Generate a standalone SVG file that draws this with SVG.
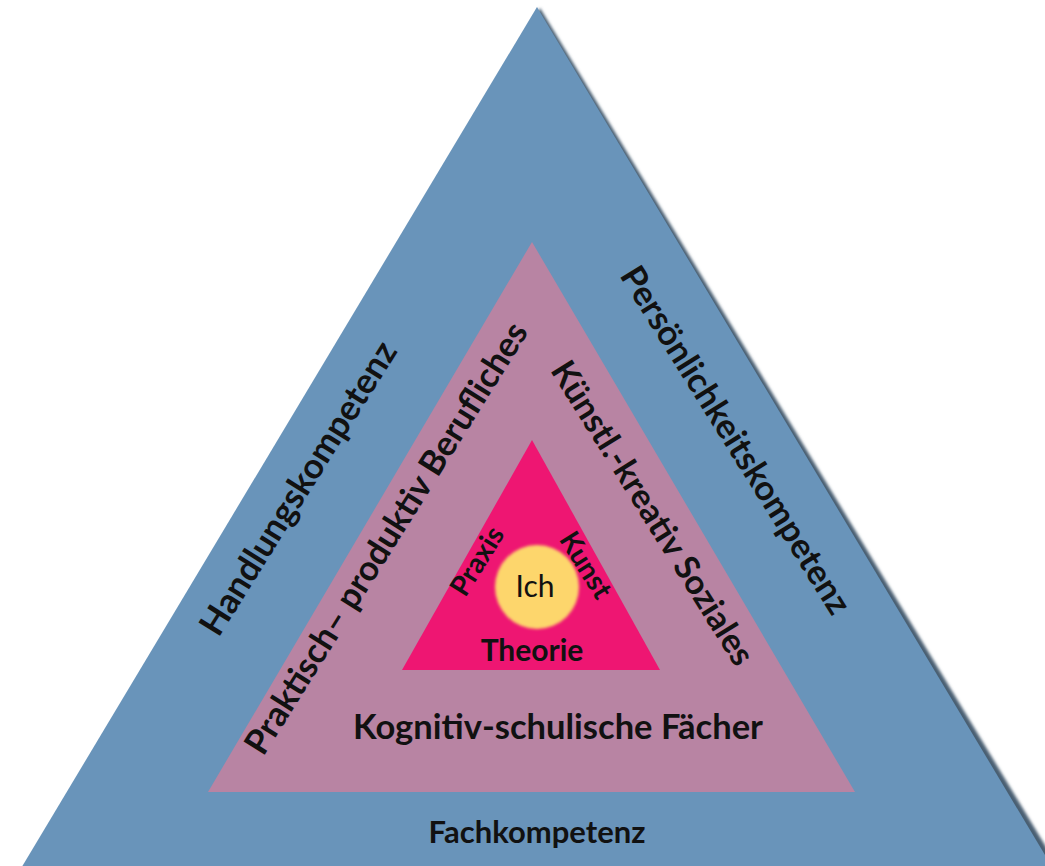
<svg xmlns="http://www.w3.org/2000/svg" width="1045" height="866" viewBox="0 0 1045 866">
<defs>
<style>
.t{font-family:Lato,"Open Sans","Liberation Sans",sans-serif;font-weight:bold;fill:#111;text-anchor:middle}
.n{font-family:Lato,"Open Sans","Liberation Sans",sans-serif;font-weight:normal;fill:#111;text-anchor:middle}
</style>
<filter id="blur" x="-5%" y="-5%" width="110%" height="110%"><feGaussianBlur stdDeviation="1.5"/></filter>
</defs>
<rect width="1045" height="866" fill="#ffffff"/>
<g id="outer">
<polygon points="540,8 25,870 1060,870" fill="#4a5f72" filter="url(#blur)"/>
<polygon points="537,7 20,870 1054,870" fill="#6994ba"/>
<text class="t" font-size="35" transform="translate(298,488) rotate(-58)" dy="0.35em">Handlungskompetenz</text>
<text class="t" font-size="34.5" transform="translate(736,440) rotate(58)" dy="0.35em">Persönlichkeitskompetenz</text>
<text class="t" font-size="31" x="537" y="843">Fachkompetenz</text>
</g>
<g id="middle">
<polygon points="532,242 208,792 855,792" fill="#b884a3"/>
<text class="t" font-size="34.5" transform="translate(386,538) rotate(-58)" dy="0.35em">Praktisch– produktiv Berufliches</text>
<text class="t" font-size="34" transform="translate(653,513) rotate(58)" dy="0.35em">Künstl.-kreativ Soziales</text>
<text class="t" font-size="34.5" x="558" y="739">Kognitiv-schulische Fächer</text>
</g>
<g id="inner">
<polygon points="532,440 402,670 660,670" fill="#ee1672"/>
<text class="t" font-size="28" transform="translate(477,561) rotate(-58)" dy="0.35em">Praxis</text>
<text class="t" font-size="28" transform="translate(586,565) rotate(58)" dy="0.35em">Kunst</text>
<text class="t" font-size="30" x="532" y="661">Theorie</text>
</g>
<g id="ich">
<circle cx="537" cy="587" r="42" fill="#fdd66c" filter="url(#blur)"/>
<text class="n" font-size="30" x="535" y="597">Ich</text>
</g>
</svg>
